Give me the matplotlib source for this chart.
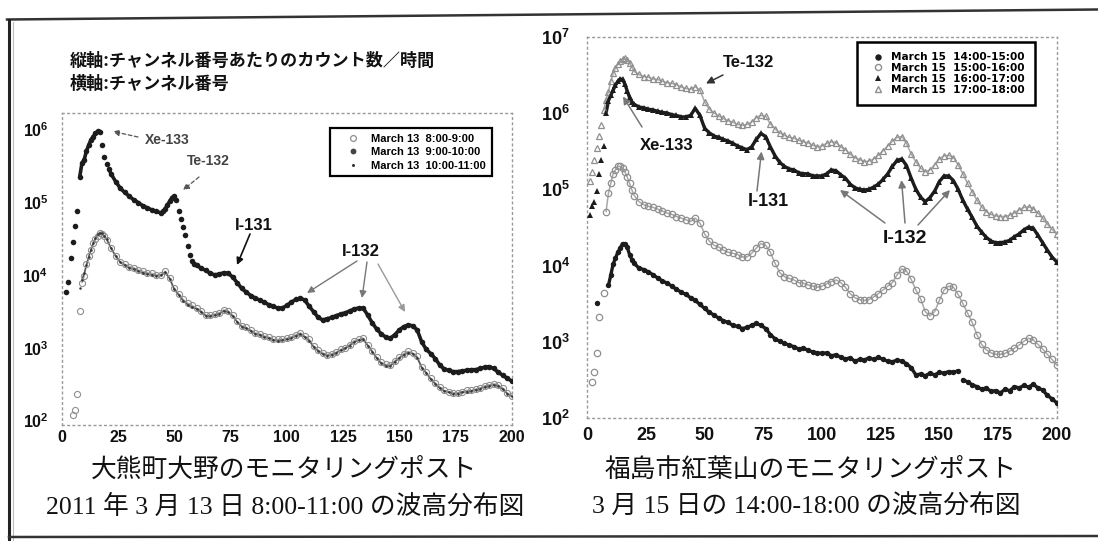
import matplotlib
matplotlib.use("Agg")
import math
import matplotlib.pyplot as plt
from matplotlib.lines import Line2D
from matplotlib.patches import FancyArrowPatch
from matplotlib.ticker import FixedLocator, FuncFormatter, NullLocator

plt.rcParams['font.family'] = ['Liberation Sans', 'Noto Sans CJK JP', 'DejaVu Sans']
plt.rcParams['font.weight'] = 'bold'
plt.rcParams['mathtext.fontset'] = 'custom'
plt.rcParams['mathtext.rm'] = 'Liberation Sans'
plt.rcParams['mathtext.bf'] = 'Liberation Sans:bold'

# ---------------- data: left panel (March 13, Okuma) ----------------
x_ticks = [0, 25, 50, 75, 100, 125, 150, 175, 200]
left_decades = [2, 3, 4, 5, 6]
right_decades = [2, 3, 4, 5, 6, 7]

left_labels = ["March 13  8:00-9:00", "March 13  9:00-10:00", "March 13  10:00-11:00"]
right_labels = ["March 15  14:00-15:00", "March 15  15:00-16:00",
                "March 15  16:00-17:00", "March 15  17:00-18:00"]

# 9:00-10:00 (filled circles)
lb_ch = [2, 3, 4, 5, 6, 7, 8, 9, 10, 11, 12, 13, 14, 15, 16, 17, 18, 19, 20, 21, 22,
         24, 26, 28, 30, 32, 34, 36, 38, 40, 42, 44,
         45, 46, 47, 48, 49, 50, 51, 52, 53, 54, 55, 56, 57, 58, 59, 60,
         62, 64, 66, 68, 70, 72, 74, 76, 78, 80, 82, 84, 86, 88, 90, 92, 94, 96, 98, 100,
         102, 104, 106, 108, 110, 112, 114, 116, 118, 120, 122, 124, 126, 128, 130, 132,
         134, 136, 138, 140, 142, 144, 146, 148, 150, 152, 154, 156, 158, 160, 162, 164,
         166, 168, 170, 172, 174, 176, 178, 180, 182, 184, 186, 188, 190, 192, 194, 196,
         198, 200]
lb_val = [5.8e3, 8.1e3, 1.7e4, 2.8e4, 4.7e4, 7.4e4, 2.2e5, 3.4e5, 3.8e5, 5.0e5, 6.0e5,
          7.1e5, 7.9e5, 8.7e5, 9.3e5, 9.1e5, 6.0e5, 4.2e5, 3.3e5, 2.8e5, 2.4e5,
          1.9e5, 1.55e5, 1.35e5, 1.2e5, 1.07e5, 9.8e4, 8.9e4, 8.3e4, 7.8e4, 7.4e4, 7.1e4,
          7.4e4, 8.1e4, 9.1e4, 1.02e5, 1.15e5, 1.2e5, 1.05e5, 7.6e4, 5.8e4, 4.6e4, 3.5e4,
          2.5e4, 1.9e4, 1.55e4, 1.4e4, 1.35e4,
          1.23e4, 1.15e4, 1.05e4, 1.0e4, 1.02e4, 1.07e4, 1.05e4, 9.3e3, 7.8e3, 6.5e3,
          5.8e3, 5.2e3, 4.8e3, 4.5e3, 4.2e3, 3.9e3, 3.7e3, 3.5e3, 3.5e3, 3.8e3,
          4.2e3, 4.6e3, 4.8e3, 4.5e3, 3.7e3, 3.1e3, 2.6e3, 2.4e3, 2.5e3, 2.6e3, 2.75e3,
          2.9e3, 3.0e3, 3.2e3, 3.4e3, 3.5e3,
          3.5e3, 2.8e3, 2.2e3, 1.8e3, 1.55e3, 1.4e3, 1.35e3, 1.5e3, 1.75e3, 1.95e3,
          2.05e3, 2.0e3, 1.75e3, 1.2e3, 9.5e2, 8.3e2,
          7.1e2, 5.8e2, 5.1e2, 4.9e2, 4.7e2, 4.7e2, 4.8e2, 4.9e2, 5.0e2, 5.0e2, 5.2e2,
          5.4e2, 5.5e2, 5.2e2, 4.6e2, 4.2e2, 3.8e2, 3.5e2]

step2_ch = list(range(22, 201, 2))

# 8:00-9:00 (open circles)
la_ch = [5, 6, 7, 8, 9, 10, 11, 12, 13, 14, 15, 16, 17, 18, 19, 20] + step2_ch
la_val = [1.2e2, 1.4e2, 2.3e2, 3.2e3, 7.8e3, 9.5e3, 1.4e4, 1.8e4, 2.2e4, 2.7e4, 3.1e4,
          3.4e4, 3.7e4, 3.6e4, 3.4e4, 3.0e4,
          2.3e4, 1.8e4, 1.5e4, 1.4e4, 1.3e4, 1.25e4, 1.17e4, 1.12e4, 1.07e4, 1.05e4,
          1.0e4, 1.0e4, 1.12e4, 9.1e3, 6.6e3, 5.5e3, 4.6e3, 4.1e3, 3.8e3, 3.5e3,
          3.2e3, 2.8e3, 2.8e3, 2.9e3, 3.0e3, 3.3e3, 3.2e3, 2.8e3, 2.3e3, 2.0e3,
          1.9e3, 1.75e3, 1.6e3, 1.55e3, 1.45e3, 1.4e3, 1.3e3, 1.3e3, 1.3e3, 1.35e3,
          1.4e3, 1.5e3, 1.6e3, 1.45e3, 1.3e3, 1.05e3, 9.3e2, 8.5e2, 8.0e2, 8.3e2,
          8.7e2, 9.5e2, 1.0e3, 1.1e3, 1.25e3, 1.3e3, 1.35e3, 1.1e3, 9.1e2, 7.4e2,
          6.3e2, 5.9e2, 5.8e2, 6.6e2, 7.4e2, 8.3e2, 8.9e2, 8.5e2, 7.6e2, 5.5e2,
          4.6e2, 3.8e2, 3.3e2, 2.9e2, 2.6e2, 2.5e2, 2.4e2, 2.4e2, 2.5e2, 2.6e2,
          2.6e2, 2.7e2, 2.8e2, 3.0e2, 3.1e2, 3.2e2, 3.1e2, 2.8e2, 2.4e2, 2.2e2]

# 10:00-11:00 (small dots)
lc_ch = [8, 9, 10, 11, 12, 13, 14, 15, 16, 17, 18, 19, 20] + step2_ch
lc_val = [6.5e3, 8.5e3, 1.05e4, 1.35e4, 1.75e4, 2.2e4, 2.7e4, 3.2e4, 3.6e4, 3.8e4,
          3.7e4, 3.4e4, 3.1e4,
          2.3e4, 1.8e4, 1.5e4, 1.35e4, 1.25e4, 1.2e4, 1.12e4, 1.07e4, 1.03e4, 1.0e4,
          9.7e3, 9.8e3, 1.08e4, 8.8e3, 6.3e3, 5.3e3, 4.4e3, 3.9e3, 3.6e3, 3.4e3,
          3.1e3, 2.75e3, 2.7e3, 2.8e3, 2.9e3, 3.2e3, 3.1e3, 2.7e3, 2.25e3, 1.95e3,
          1.85e3, 1.7e3, 1.55e3, 1.5e3, 1.4e3, 1.35e3, 1.27e3, 1.25e3, 1.27e3, 1.3e3,
          1.37e3, 1.45e3, 1.55e3, 1.4e3, 1.25e3, 1.02e3, 9.0e2, 8.2e2, 7.8e2, 8.0e2,
          8.5e2, 9.2e2, 9.8e2, 1.07e3, 1.2e3, 1.27e3, 1.3e3, 1.07e3, 8.8e2, 7.2e2,
          6.1e2, 5.7e2, 5.6e2, 6.4e2, 7.2e2, 8.0e2, 8.6e2, 8.3e2, 7.3e2, 5.3e2,
          4.5e2, 3.7e2, 3.2e2, 2.8e2, 2.55e2, 2.45e2, 2.35e2, 2.35e2, 2.45e2, 2.5e2,
          2.55e2, 2.65e2, 2.75e2, 2.9e2, 3.0e2, 3.1e2, 3.0e2, 2.7e2, 2.35e2, 2.15e2]

# ---------------- data: right panel (March 15, Fukushima) ----------------
# 14:00-15:00 (filled circles)
r1_ch = [4, 9, 10, 11, 12, 13, 14, 15, 16, 17, 18, 19, 20] + step2_ch
r1_val = [3.2e3, 5.5e3, 7.5e3, 1.05e4, 1.25e4, 1.5e4, 1.7e4, 1.95e4, 1.9e4, 1.75e4,
          1.4e4, 1.2e4, 1.07e4,
          9.3e3, 8.9e3, 8.3e3, 7.6e3, 6.9e3, 6.3e3, 5.9e3, 5.4e3, 4.9e3, 4.5e3,
          4.2e3, 3.8e3, 3.5e3, 3.1e3, 2.75e3, 2.45e3, 2.25e3, 2.05e3, 1.9e3, 1.8e3,
          1.65e3, 1.6e3, 1.5e3, 1.55e3, 1.65e3, 1.75e3, 1.65e3, 1.5e3, 1.25e3, 1.1e3,
          1.02e3, 9.6e2, 9.1e2, 8.7e2, 8.1e2, 8.3e2, 7.8e2, 7.4e2, 7.2e2, 7.1e2,
          7.2e2, 6.6e2, 6.8e2, 6.3e2, 6.0e2, 6.2e2, 5.6e2, 5.9e2, 5.8e2, 6.2e2,
          5.9e2, 6.3e2, 5.9e2, 5.6e2, 5.5e2, 5.8e2, 5.6e2, 5.2e2, 4.6e2, 3.7e2,
          3.8e2, 3.6e2, 3.9e2, 3.7e2, 4.0e2, 3.9e2, 4.1e2, 4.0e2, 4.2e2, 3.2e2,
          3.0e2, 2.75e2, 2.6e2, 2.4e2, 2.5e2, 2.25e2, 2.3e2, 2.15e2, 2.4e2, 2.3e2,
          2.6e2, 2.5e2, 2.7e2, 2.55e2, 2.8e2, 2.5e2, 2.35e2, 2.0e2, 1.8e2, 1.6e2]

# 15:00-16:00 (open circles)
r2_ch = [2, 3, 4, 5, 7, 8, 9, 10, 11, 12, 13, 14, 15, 16, 17, 18, 19, 20] + step2_ch
r2_val = [3.0e2, 4.1e2, 7.1e2, 2.1e3, 4.4e3, 5.1e4, 8.9e4, 1.2e5, 1.6e5, 1.8e5, 2.0e5,
          2.0e5, 1.9e5, 1.7e5, 1.45e5, 1.2e5, 9.8e4, 8.3e4,
          6.9e4, 6.3e4, 6.0e4, 5.8e4, 5.5e4, 5.2e4, 4.9e4, 4.7e4, 4.4e4, 4.2e4,
          4.0e4, 3.8e4, 4.2e4, 3.6e4, 2.6e4, 2.1e4, 1.85e4, 1.75e4, 1.6e4, 1.5e4,
          1.45e4, 1.4e4, 1.3e4, 1.3e4, 1.45e4, 1.7e4, 1.95e4, 1.85e4, 1.5e4, 1.07e4,
          8.1e3, 7.2e3, 6.8e3, 6.5e3, 6.0e3, 5.9e3, 5.6e3, 5.4e3, 5.2e3, 5.4e3,
          5.8e3, 6.2e3, 6.5e3, 6.0e3, 5.2e3, 4.3e3, 3.8e3, 3.6e3, 3.5e3, 3.6e3,
          3.9e3, 4.3e3, 4.8e3, 5.4e3, 6.0e3, 7.6e3, 9.1e3, 8.5e3, 6.6e3, 4.8e3,
          3.7e3, 2.5e3, 2.2e3, 2.5e3, 3.5e3, 4.8e3, 5.4e3, 5.2e3, 4.2e3, 3.2e3,
          2.4e3, 1.8e3, 1.25e3, 9.3e2, 7.9e2, 7.2e2, 6.9e2, 6.9e2, 7.1e2, 7.6e2,
          8.3e2, 9.1e2, 1.02e3, 1.12e3, 1.07e3, 9.3e2, 8.1e2, 6.9e2, 5.9e2, 5.0e2]

# 16:00-17:00 (filled triangles)
r3_ch = list(range(1, 21)) + step2_ch
r3_val = [4.6e4, 6.0e4, 6.8e4, 9.5e4, 1.6e5, 2.4e5, 3.7e5, 1.0e6, 1.45e6, 1.7e6,
          2.0e6, 2.3e6, 2.6e6, 2.8e6, 2.75e6, 2.4e6, 1.95e6, 1.6e6, 1.4e6, 1.3e6,
          1.2e6, 1.17e6, 1.12e6, 1.1e6, 1.05e6, 1.02e6, 1.0e6, 9.5e5, 9.3e5, 8.9e5,
          8.9e5, 9.3e5, 1.15e6, 9.3e5, 6.3e5, 5.5e5, 5.0e5, 4.8e5, 4.5e5, 4.3e5,
          4.0e5, 3.7e5, 3.5e5, 3.3e5, 3.6e5, 4.5e5, 5.4e5, 4.9e5, 3.6e5, 2.75e5,
          2.25e5, 2.0e5, 1.85e5, 1.8e5, 1.65e5, 1.6e5, 1.6e5, 1.5e5, 1.5e5, 1.5e5,
          1.6e5, 1.8e5, 1.75e5, 1.55e5, 1.4e5, 1.17e5, 1.05e5, 1.0e5, 9.8e4, 1.0e5,
          1.07e5, 1.17e5, 1.35e5, 1.6e5, 2.0e5, 2.4e5, 2.5e5, 2.05e5, 1.4e5, 1.0e5,
          7.9e4, 6.9e4, 7.8e4, 9.5e4, 1.26e5, 1.5e5, 1.5e5, 1.3e5, 1.0e5, 7.2e4,
          5.5e4, 4.3e4, 3.3e4, 2.75e4, 2.35e4, 2.1e4, 2.0e4, 2.0e4, 2.05e4, 2.15e4,
          2.4e4, 2.6e4, 2.95e4, 3.2e4, 3.1e4, 2.5e4, 2.0e4, 1.6e4, 1.3e4, 1.12e4]

# 17:00-18:00 (open triangles)
r4_ch = list(range(1, 21)) + step2_ch
r4_val = [1.3e5, 1.7e5, 2.4e5, 3.5e5, 5.0e5, 7.0e5, 1.1e6, 1.5e6, 1.9e6, 2.6e6,
          3.3e6, 3.9e6, 4.4e6, 4.8e6, 5.1e6, 5.2e6, 5.0e6, 4.5e6, 4.0e6, 3.5e6,
          3.2e6, 3.0e6, 2.95e6, 2.8e6, 2.75e6, 2.6e6, 2.5e6, 2.45e6, 2.35e6, 2.2e6,
          2.1e6, 2.05e6, 2.2e6, 2.0e6, 1.4e6, 1.12e6, 1.0e6, 9.1e5, 8.5e5, 7.9e5,
          7.6e5, 7.1e5, 6.9e5, 7.1e5, 7.6e5, 8.7e5, 9.3e5, 9.1e5, 7.2e5, 6.2e5,
          5.5e5, 5.1e5, 4.8e5, 4.7e5, 4.4e5, 4.2e5, 4.1e5, 3.8e5, 3.6e5, 3.7e5,
          4.0e5, 4.2e5, 4.1e5, 3.6e5, 3.3e5, 2.9e5, 2.6e5, 2.45e5, 2.3e5, 2.35e5,
          2.5e5, 2.8e5, 3.2e5, 3.7e5, 4.3e5, 4.8e5, 4.9e5, 4.0e5, 2.9e5, 2.3e5,
          1.9e5, 1.7e5, 1.8e5, 2.1e5, 2.5e5, 2.75e5, 2.8e5, 2.6e5, 2.1e5, 1.6e5,
          1.2e5, 9.3e4, 7.2e4, 5.9e4, 5.1e4, 4.7e4, 4.5e4, 4.4e4, 4.4e4, 4.6e4,
          4.9e4, 5.4e4, 5.8e4, 5.9e4, 5.6e4, 4.9e4, 4.2e4, 3.5e4, 3.0e4, 2.6e4]

# ---------------- figure ----------------
W, H = 1098, 541
fig = plt.figure(figsize=(W / 100, H / 100), dpi=100)
fig.patch.set_facecolor('white')


def P(x, y):
    return (x / W, 1 - y / H)


DARK = '#1c1c1c'
GRAY = '#8f8f8f'
LGRAY = '#a8a8a8'


def style_axes(ax, decades, ylo, yhi, labsize, ypad, xpad):
    ax.set_xlim(0, 200)
    ax.set_yscale('log')
    ax.set_ylim(ylo, yhi)
    ax.xaxis.set_major_locator(FixedLocator(x_ticks))
    ax.xaxis.set_minor_locator(NullLocator())
    ax.yaxis.set_major_locator(FixedLocator([10.0 ** d for d in decades]))
    ax.yaxis.set_minor_locator(NullLocator())
    ax.yaxis.set_major_formatter(FuncFormatter(
        lambda v, p: r'$\mathbf{10^{%d}}$' % round(math.log10(v))))
    ax.tick_params(axis='both', length=0, labelsize=labsize, colors='#111')
    ax.tick_params(axis='y', pad=ypad)
    ax.tick_params(axis='x', pad=xpad)
    for t in ax.get_xticklabels():
        t.set_fontweight('bold')
    for sp in ax.spines.values():
        sp.set_linestyle((0, (1.2, 2.6)))
        sp.set_color('#9a9a9a')
        sp.set_linewidth(1.0)


def trace(ax, ch, val, lo, hi, color, lw):
    """Join the recorded points of one spectrum between two channels."""
    idx = [i for i, c in enumerate(ch) if lo <= c <= hi]
    ax.plot([ch[i] for i in idx], [val[i] for i in idx], color=color, lw=lw,
            solid_joinstyle='round', solid_capstyle='round', zorder=2)


# left axes
axL = fig.add_axes([61.7 / W, 1 - 425 / H, 450 / W, 312 / H])
style_axes(axL, left_decades, 10 ** 1.94, 10 ** 6.22, 11.5, 9.5, 3.5)
trace(axL, la_ch, la_val, 9, 200, LGRAY, 1.0)
axL.plot(la_ch, la_val, ls='none', marker='o', ms=4.4, mfc='none', mec=GRAY, mew=0.8,
         zorder=3)
trace(axL, lc_ch, lc_val, 9, 200, '#555', 1.1)
axL.plot(lc_ch, lc_val, ls='none', marker='o', ms=1.8, mfc='#333', mec='#333', mew=0,
         zorder=3)
for lo, hi in [(8, 17), (21, 51), (58, 200)]:
    trace(axL, lb_ch, lb_val, lo, hi, DARK, 2.6)
axL.plot(lb_ch, lb_val, ls='none', marker='o', ms=4.0, mfc=DARK, mec=DARK, mew=0,
         zorder=3)

hL = [Line2D([], [], ls='none', marker='o', ms=4.2, mfc='none', mec=GRAY, mew=0.9),
      Line2D([], [], ls='none', marker='o', ms=4.2, mfc='#444', mec='#444', mew=0),
      Line2D([], [], ls='none', marker='o', ms=2.2, mfc='#333', mec='#333', mew=0)]
legL = axL.legend(hL, left_labels, loc='upper right', bbox_to_anchor=(0.9556, 0.951),
                  borderaxespad=0, borderpad=0.5, handlelength=3.2, handletextpad=0.05,
                  labelspacing=0.3, fancybox=False, framealpha=1,
                  prop={'family': 'Liberation Sans', 'weight': 'bold', 'size': 8})
legL.get_frame().set_edgecolor('black')
legL.get_frame().set_linewidth(1.6)
legL.set_zorder(5)

# right axes
axR = fig.add_axes([587.3 / W, 1 - 418.3 / H, 469.4 / W, 381.6 / H])
style_axes(axR, right_decades, 1e2, 1e7, 13, 12.5, 6)
trace(axR, r2_ch, r2_val, 8, 200, LGRAY, 1.1)
axR.plot(r2_ch, r2_val, ls='none', marker='o', ms=4.6, mfc='none', mec=GRAY, mew=0.9,
         zorder=3)
trace(axR, r4_ch, r4_val, 7, 200, LGRAY, 1.1)
axR.plot(r4_ch, r4_val, ls='none', marker='^', ms=4.8, mfc='none', mec=GRAY, mew=0.9,
         zorder=3)
for lo, hi in [(9, 158), (160, 200)]:
    trace(axR, r1_ch, r1_val, lo, hi, DARK, 2.4)
axR.plot(r1_ch, r1_val, ls='none', marker='o', ms=3.9, mfc=DARK, mec=DARK, mew=0,
         zorder=3)
trace(axR, r3_ch, r3_val, 8, 200, DARK, 2.4)
axR.plot(r3_ch, r3_val, ls='none', marker='^', ms=4.4, mfc=DARK, mec=DARK, mew=0,
         zorder=3)

hR = [Line2D([], [], ls='none', marker='o', ms=4.6, mfc=DARK, mec=DARK, mew=0),
      Line2D([], [], ls='none', marker='o', ms=4.4, mfc='none', mec=GRAY, mew=1.0),
      Line2D([], [], ls='none', marker='^', ms=4.6, mfc=DARK, mec=DARK, mew=0),
      Line2D([], [], ls='none', marker='^', ms=4.6, mfc='none', mec=GRAY, mew=1.0)]
legR = axR.legend(hR, right_labels, loc='upper right', bbox_to_anchor=(0.954, 0.987),
                  borderaxespad=0, borderpad=1.0, handlelength=2.0, handletextpad=0.25,
                  labelspacing=0.08, fancybox=False, framealpha=1,
                  prop={'family': 'DejaVu Sans', 'weight': 'bold', 'size': 7.6})
legR.get_frame().set_edgecolor('black')
legR.get_frame().set_linewidth(1.8)
legR.set_zorder(5)

# ---------------- annotations ----------------
def label(x, y, s, size, color='#111'):
    fig.text(*P(x, y), s, fontsize=size, fontweight='bold', color=color,
             ha='left', va='center', family=['Liberation Sans'])


def arrow(x0, y0, x1, y1, color='#666', ls='-', lw=1.0, ms=9):
    fig.add_artist(FancyArrowPatch(P(x0, y0), P(x1, y1), transform=fig.transFigure,
                                   arrowstyle='-|>', mutation_scale=ms, color=color,
                                   linestyle=ls, linewidth=lw, shrinkA=0, shrinkB=0))


# left panel labels
label(145, 140, 'Xe-133', 10, '#444')
arrow(138, 137, 113, 131.5, '#555', (0, (3, 2)), 0.9, 9)
label(187, 161, 'Te-132', 10, '#444')
arrow(199, 177, 183, 190, '#555', (0, (3, 2)), 0.9, 9)
label(235, 226, 'I-131', 12, '#111')
arrow(250, 234, 237, 265, '#111', '-', 1.2, 10)
label(342, 252, 'I-132', 12, '#111')
arrow(357, 261, 307, 293, '#777', '-', 1.0, 10)
arrow(367, 262, 362, 298, '#777', '-', 1.0, 10)
arrow(378, 264, 405, 312, '#999', '-', 1.0, 10)

# right panel labels
label(723, 62.5, 'Te-132', 12, '#111')
arrow(723, 75, 706, 83.5, '#333', '-', 1.1, 11)
label(640, 145.5, 'Xe-133', 12, '#111')
arrow(642, 127, 623, 96.5, '#777', '-', 1.1, 11)
label(748, 201.5, 'I-131', 13, '#111')
arrow(757, 191, 761.5, 151.5, '#777', '-', 1.1, 11)
label(883, 238.5, 'I-132', 14, '#111')
arrow(885, 223, 840, 190, '#777', '-', 1.1, 11)
arrow(905, 223, 901.5, 180, '#777', '-', 1.1, 11)
arrow(918, 225, 950, 190, '#777', '-', 1.1, 11)

# axis description text (top left)
cjk = ['Noto Sans CJK JP', 'DejaVu Sans']
fig.text(*P(70, 61), '縦軸:チャンネル番号あたりのカウント数／時間', fontsize=12.3,
         fontweight='bold', family=cjk, ha='left', va='center', color='#111')
fig.text(*P(70, 84), '横軸:チャンネル番号', fontsize=12.3,
         fontweight='bold', family=cjk, ha='left', va='center', color='#111')

# captions
cap = ['Liberation Serif', 'Noto Sans CJK JP', 'DejaVu Sans']
fig.text(*P(284, 470), '大熊町大野のモニタリングポスト', fontsize=18.5, fontweight='normal',
         family=cap, ha='center', va='center', color='#111')
fig.text(*P(285, 507), '2011 年 3 月 13 日 8:00-11:00 の波高分布図', fontsize=18.5,
         fontweight='normal', family=cap, ha='center', va='center', color='#111')
fig.text(*P(811, 470), '福島市紅葉山のモニタリングポスト', fontsize=18.5, fontweight='normal',
         family=cap, ha='center', va='center', color='#111')
fig.text(*P(806, 507), '3 月 15 日の 14:00-18:00 の波高分布図', fontsize=18.5,
         fontweight='normal', family=cap, ha='center', va='center', color='#111')

# document frame
fig.add_artist(Line2D([7 / W, 1.0], [1 - 19.5 / H, 1 - 9.5 / H], color='#333', lw=1.8))
fig.add_artist(Line2D([9 / W, 9 / W], [1 - 19.5 / H, 0.0], color='#222', lw=2.2))
fig.add_artist(Line2D([12.5 / W, 12.5 / W], [1 - 22 / H, 0.0], color='#bbbbbb', lw=0.8))
fig.add_artist(Line2D([9 / W, 1.0], [1 - 537 / H, 1 - 536 / H], color='#333', lw=1.8))

fig.savefig('out.png', dpi=100, facecolor='white')
